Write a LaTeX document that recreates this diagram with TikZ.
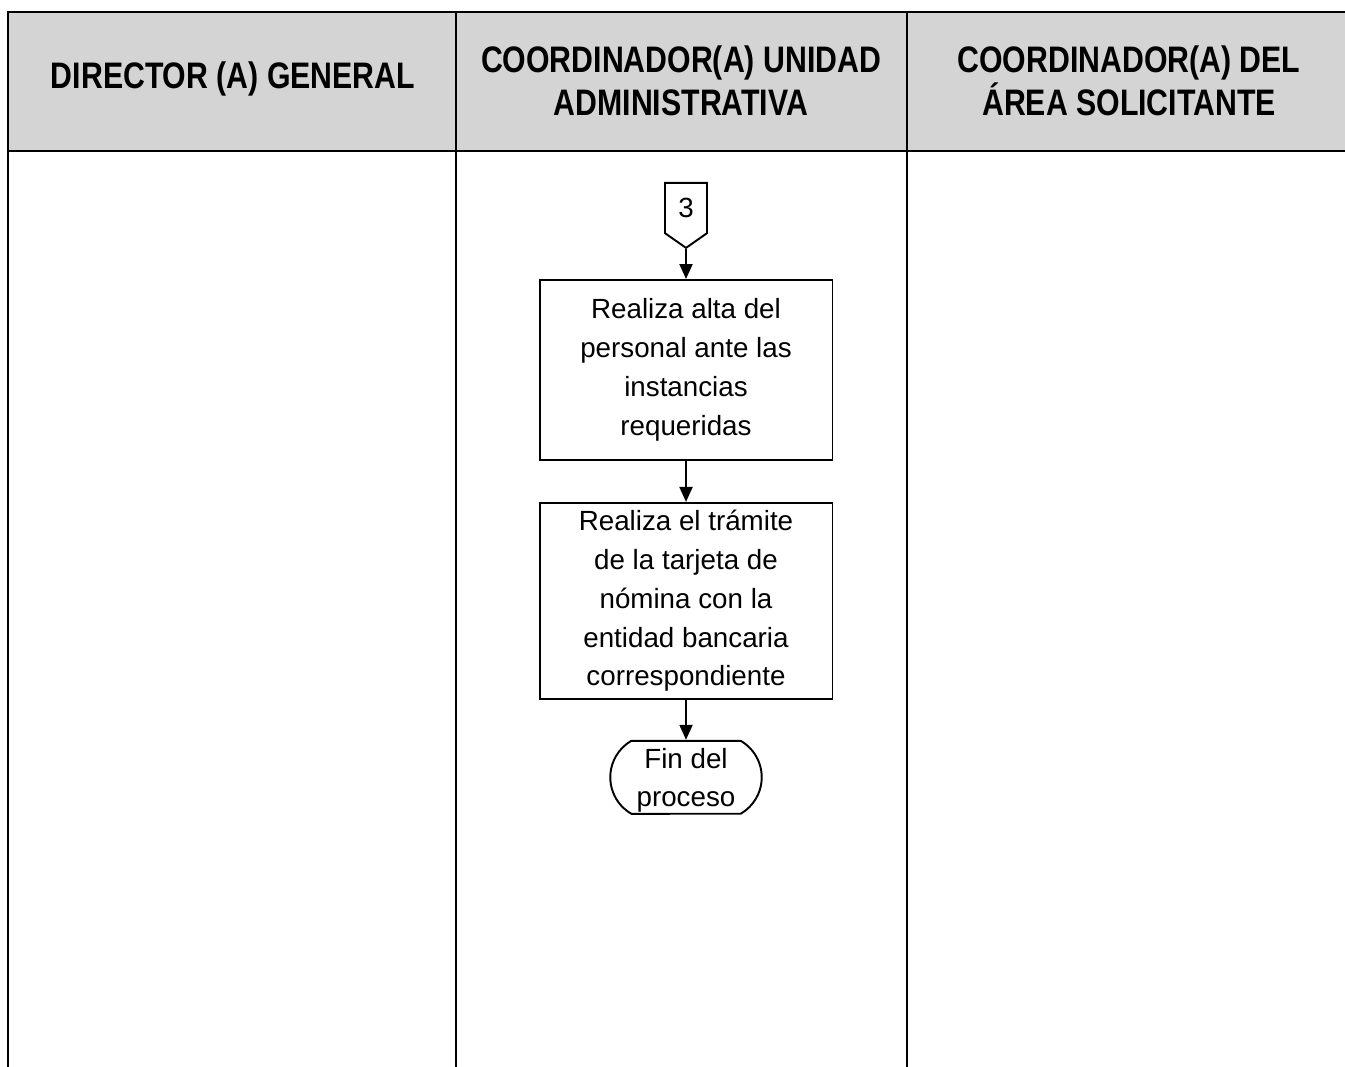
\documentclass[tikz,border=0pt]{standalone}
\usepackage{fontspec}
\setmainfont{Liberation Sans}
\newfontfamily\headfont[FakeStretch=0.82]{Liberation Sans}
\usepackage{tikz}
\usetikzlibrary{arrows.meta,positioning,shapes.symbols,shapes.misc}
\usepackage{xcolor}
\definecolor{headgray}{RGB}{212,212,212}

\begin{document}
\begin{tikzpicture}[x=0.02cm, y=-0.02cm,
    lane/.style={line width=1.4pt},
    headtext/.style={font=\headfont\fontsize{21}{24.5}\selectfont\bfseries, align=center},
    process/.style={draw, line width=1.1pt, minimum width=5.86cm, align=center,
      font=\fontsize{15.8}{22.1}\selectfont},
    offpage/.style={draw, line width=1.1pt, shape=signal, signal to=south, signal from=nowhere,
      signal pointer angle=110, minimum width=0.84cm, minimum height=1.14cm, inner sep=1pt,
      font=\fontsize{15.8}{19}\selectfont},
    terminal/.style={draw, line width=1.1pt, shape=rounded rectangle, rounded rectangle arc length=120,
      minimum width=3.1cm, minimum height=1.46cm, inner sep=1pt, align=center, text depth=0pt,
      font=\fontsize{15.8}{21.5}\selectfont},
    flow/.style={-{Triangle[width=0.26cm, length=0.3cm]}, line width=1.1pt}]
  \useasboundingbox (0,0) rectangle (1345,1067);
  % header band
  \fill[headgray] (8,12) rectangle (1345,151);
  \draw[lane] (1345,12) -- (8,12) -- (8,1067);
  \draw[lane] (8,151) -- (1345,151);
  \draw[lane] (456,12) -- (456,1067);
  \draw[lane] (907,12) -- (907,1067);
  % lane titles
  \node[headtext] (dirgen) at (233,79) {DIRECTOR (A) GENERAL};
  \node[headtext] (coordadm) at (681,81) {COORDINADOR(A) UNIDAD\\ADMINISTRATIVA};
  \node[headtext] (coordarea) at (1129,81) {COORDINADOR(A) DEL\\ÁREA SOLICITANTE};
  % flow
  \node[process, minimum height=3.6cm] (alta) at (686,370)
    {Realiza alta del\\personal ante las\\instancias\\requeridas};
  \node[offpage, above=0.6cm of alta] (conn) {3};
  \node[process, minimum height=3.92cm, below=0.82cm of alta] (tarjeta)
    {Realiza el trámite\\de la tarjeta de\\nómina con la\\entidad bancaria\\correspondiente};
  \node[terminal, below=0.8cm of tarjeta] (fin) {Fin del\\proceso};
  \draw[flow] (conn) -- (alta);
  \draw[flow] (alta) -- (tarjeta);
  \draw[flow] (tarjeta) -- (fin);
\end{tikzpicture}
\end{document}
